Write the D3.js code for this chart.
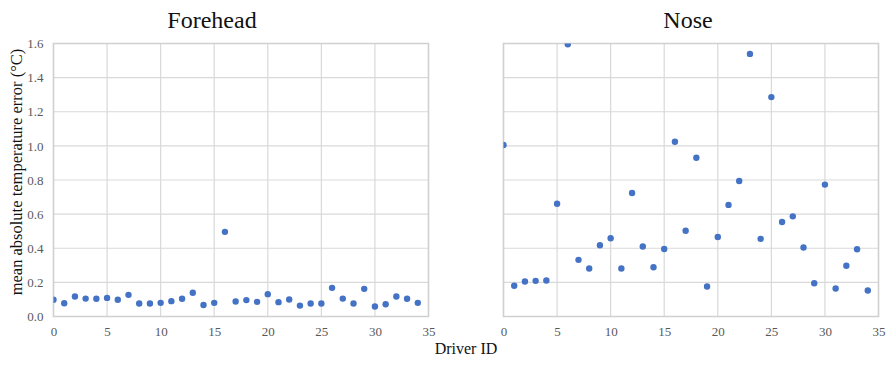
<!DOCTYPE html>
<html>
<head>
<meta charset="utf-8">
<script src="https://cdn.jsdelivr.net/npm/d3@7"></script>
<style>
  body { margin: 0; background: #fff; }
  svg { display: block; font-family: "Liberation Serif", "DejaVu Serif", serif; }
  .tick text { fill: #595959; font-size: 13px; }
  .grid line { stroke: #d9d9d9; stroke-width: 1.2; }
</style>
</head>
<body>
<svg></svg>
<script>
// Driver IDs 0..34
var driverIds = d3.range(0, 35);

var foreheadErr = [0.098, 0.078, 0.117, 0.105, 0.104, 0.109, 0.098, 0.127, 0.076, 0.076,
    0.080, 0.090, 0.104, 0.139, 0.067, 0.080, 0.496, 0.088, 0.096, 0.086,
    0.131, 0.084, 0.100, 0.064, 0.076, 0.076, 0.168, 0.105, 0.076, 0.162,
    0.059, 0.072, 0.117, 0.104, 0.080];

var noseErr = [1.005, 0.180, 0.205, 0.209, 0.211, 0.661, 1.595, 0.332, 0.281, 0.418,
    0.459, 0.281, 0.724, 0.410, 0.289, 0.396, 1.024, 0.503, 0.930, 0.176,
    0.466, 0.654, 0.794, 1.539, 0.455, 1.286, 0.554, 0.587, 0.404, 0.195,
    0.773, 0.164, 0.297, 0.394, 0.152];

var xTicks = [0, 5, 10, 15, 20, 25, 30, 35];
var yTicks = [0, 0.2, 0.4, 0.6, 0.8, 1.0, 1.2, 1.4, 1.6];

var panels = [
    { name: "Forehead", values: foreheadErr, left: 53.5, yLabels: true, titleX: 212 },
    { name: "Nose", values: noseErr, left: 503.5, yLabels: false, titleX: 688 }
];

var svg = d3.select("svg").attr("width", 886).attr("height", 365);

var pw = 375, plotTop = 43.5, plotBottom = 316.5;

var y = d3.scaleLinear().domain([0, 1.6]).range([plotBottom, plotTop]);

panels.forEach(function (p, i) {
    var x = d3.scaleLinear().domain([0, 35]).range([p.left, p.left + pw]);
    var g = svg.append("g");

    // gridlines
    var grid = g.append("g").attr("class", "grid");
    grid.selectAll(".gx").data(xTicks).enter().append("line")
        .attr("x1", function (d) { return x(d); })
        .attr("x2", function (d) { return x(d); })
        .attr("y1", plotTop).attr("y2", plotBottom);
    grid.selectAll(".gy").data(yTicks).enter().append("line")
        .attr("x1", p.left).attr("x2", p.left + pw)
        .attr("y1", function (d) { return y(d); })
        .attr("y2", function (d) { return y(d); });

    g.append("rect")
        .attr("x", p.left).attr("y", plotTop)
        .attr("width", pw).attr("height", plotBottom - plotTop)
        .attr("fill", "none").attr("stroke", "#d0d0d0").attr("stroke-width", 1.5);

    // axes (labels only)
    var xAxis = g.append("g")
        .attr("transform", "translate(0," + plotBottom + ")")
        .call(d3.axisBottom(x).tickValues(xTicks).tickSize(0).tickPadding(10))
        .attr("font-family", null).attr("font-size", null);
    xAxis.select(".domain").remove();

    if (p.yLabels) {
        var yAxis = g.append("g")
            .attr("transform", "translate(" + p.left + ",0)")
            .call(d3.axisLeft(y).tickValues(yTicks).tickSize(0).tickPadding(10).tickFormat(d3.format(".1f")))
            .attr("font-family", null).attr("font-size", null);
        yAxis.select(".domain").remove();
    }

    // points, clipped to the plot box
    svg.append("clipPath").attr("id", "clip" + i)
        .append("rect")
        .attr("x", p.left).attr("y", plotTop)
        .attr("width", pw).attr("height", plotBottom - plotTop);

    g.append("g").attr("clip-path", "url(#clip" + i + ")")
        .selectAll("circle")
        .data(p.values)
        .enter().append("circle")
        .attr("cx", function (d, j) { return x(driverIds[j]); })
        .attr("cy", function (d) { return y(d); })
        .attr("r", 3.2)
        .attr("fill", "#4472c4");

    g.append("text")
        .attr("x", p.titleX).attr("y", 28)
        .attr("text-anchor", "middle")
        .style("font-size", "24px")
        .attr("fill", "#111")
        .text(p.name);
});

svg.append("text")
    .attr("transform", "translate(22,172) rotate(-90)")
    .attr("text-anchor", "middle")
    .style("font-size", "16.5px")
    .attr("fill", "#111")
    .text("mean absolute temperature error (°C)");

svg.append("text")
    .attr("x", 466).attr("y", 354)
    .attr("text-anchor", "middle")
    .style("font-size", "16px")
    .attr("fill", "#111")
    .text("Driver ID");
</script>
</body>
</html>
